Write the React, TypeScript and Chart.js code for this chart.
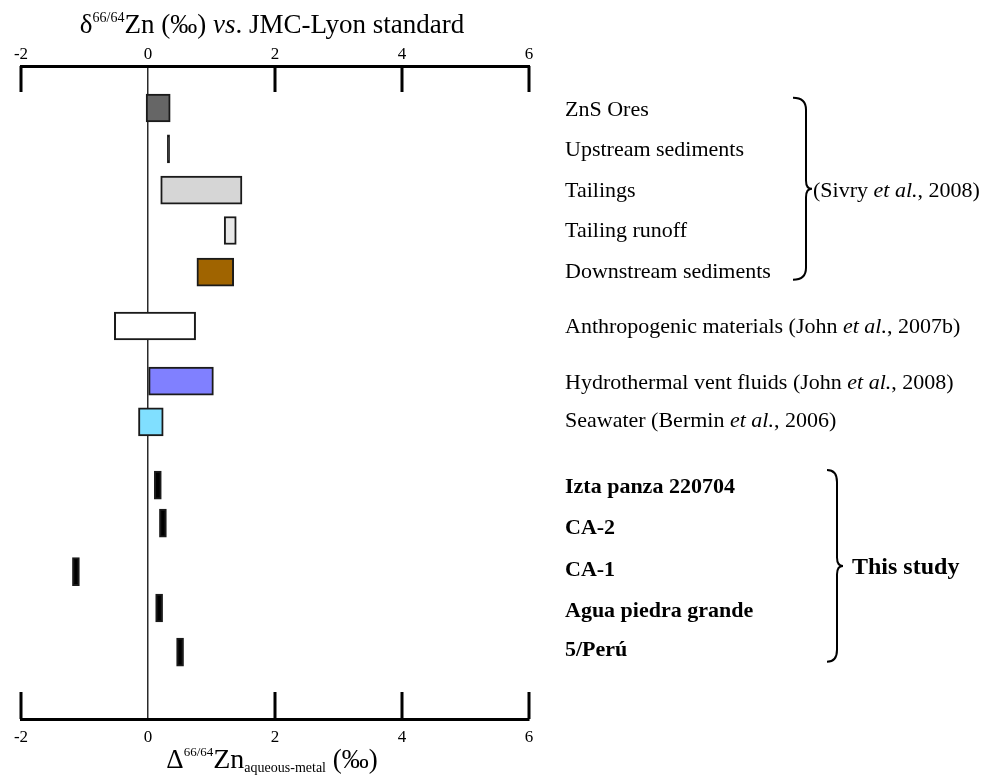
import React, { useEffect, useRef } from "react";
import { Chart, registerables } from "chart.js";

Chart.register(...registerables);

// ---------- data ----------
const categories = [
  "ZnS Ores",
  "Upstream sediments",
  "Tailings",
  "Tailing runoff",
  "Downstream sediments",
  "Anthropogenic materials (John et al., 2007b)",
  "Hydrothermal vent fluids (John et al., 2008)",
  "Seawater (Bermin et al., 2006)",
  "Izta panza 220704",
  "CA-2",
  "CA-1",
  "Agua piedra grande",
  "5/Perú",
];
// row positions on the (hidden, reversed) category-position axis
const rowPos = [1.03, 2.03, 3.04, 4.03, 5.05, 6.37, 7.72, 8.72, 10.27, 11.2, 12.39, 13.28, 14.36];
const labelPos = [1.05, 2.03, 3.02, 4.0, 5.0, 6.35, 7.72, 8.65, 10.27, 11.29, 12.31, 13.31, 14.27];
const lowValues = [-0.03, 0.305, 0.2, 1.2, 0.77, -0.53, 0.01, -0.15, 0.1, 0.18, -1.19, 0.12, 0.45];
const highValues = [0.35, 0.34, 1.48, 1.39, 1.35, 0.75, 1.03, 0.24, 0.21, 0.29, -1.08, 0.23, 0.56];
const barColors = [
  "#666666", "#000000", "#d6d6d6", "#e8e8e8", "#a06400",
  "#ffffff", "#8080ff", "#80dfff",
  "#000000", "#000000", "#000000", "#000000", "#000000",
];
const boldRows = [false, false, false, false, false, false, false, false, true, true, true, true, true];
const xTickValues = [-2, 0, 2, 4, 6];
const groupNotes = ["(Sivry et al., 2008)", "This study"];
const groupFrom = [0.78, 9.9];
const groupTo = [5.24, 14.6];
const groupBold = [false, true];

// ---------- helpers ----------
const SERIF = '"Liberation Serif", "Times New Roman", Times, serif';
type Seg = { t: string; size: number; italic?: boolean; bold?: boolean; dy?: number };
const fontOf = (s: Seg) => `${s.italic ? "italic " : ""}${s.bold ? "bold " : ""}${s.size}px ${SERIF}`;

function drawSegs(ctx: CanvasRenderingContext2D, segs: Seg[], x: number, y: number, center: boolean) {
  let w = 0;
  for (const s of segs) {
    ctx.font = fontOf(s);
    w += ctx.measureText(s.t).width;
  }
  let cx = center ? x - w / 2 : x;
  ctx.textAlign = "left";
  ctx.textBaseline = "alphabetic";
  ctx.fillStyle = "#000";
  for (const s of segs) {
    ctx.font = fontOf(s);
    ctx.fillText(s.t, cx, y + (s.dy || 0));
    cx += ctx.measureText(s.t).width;
  }
}

function richLabel(text: string, size: number, bold: boolean): Seg[] {
  const key = "et al.";
  const idx = text.indexOf(key);
  if (idx < 0) return [{ t: text, size, bold }];
  return [
    { t: text.slice(0, idx), size, bold },
    { t: key, size, bold, italic: true },
    { t: text.slice(idx + key.length), size, bold },
  ];
}

function drawBrace(ctx: CanvasRenderingContext2D, xl: number, xm: number, xt: number, yTop: number, yBot: number) {
  const ymid = (yTop + yBot) / 2;
  const r = 12;
  ctx.beginPath();
  ctx.moveTo(xl, yTop);
  ctx.quadraticCurveTo(xm, yTop, xm, yTop + r);
  ctx.lineTo(xm, ymid - r * 0.7);
  ctx.quadraticCurveTo(xm, ymid, xt, ymid);
  ctx.quadraticCurveTo(xm, ymid, xm, ymid + r * 0.7);
  ctx.lineTo(xm, yBot - r);
  ctx.quadraticCurveTo(xm, yBot, xl, yBot);
  ctx.strokeStyle = "#000";
  ctx.lineWidth = 2;
  ctx.stroke();
}

const decorPlugin = {
  id: "decor",
  afterDatasetsDraw(chart: any) {
    const ctx: CanvasRenderingContext2D = chart.ctx;
    const { chartArea } = chart;
    const xs = chart.scales.x;
    const ys = chart.scales.y;
    ctx.save();
    // inward major ticks
    ctx.strokeStyle = "#000";
    ctx.lineWidth = 3;
    for (const v of xTickValues) {
      if (v === 0) continue;
      const px = xs.getPixelForValue(v);
      ctx.beginPath();
      ctx.moveTo(px, chartArea.top);
      ctx.lineTo(px, chartArea.top + 26);
      ctx.moveTo(px, chartArea.bottom);
      ctx.lineTo(px, chartArea.bottom - 27);
      ctx.stroke();
    }
    // axis titles
    drawSegs(
      ctx,
      [
        { t: "δ", size: 27 },
        { t: "66/64", size: 14, dy: -11 },
        { t: "Zn (‰) ", size: 27 },
        { t: "vs", size: 27, italic: true },
        { t: ". JMC-Lyon standard", size: 27 },
      ],
      (chartArea.left + chartArea.right) / 2 - 3,
      33,
      true
    );
    drawSegs(
      ctx,
      [
        { t: "Δ", size: 27 },
        { t: "66/64", size: 13, dy: -12 },
        { t: "Zn", size: 28 },
        { t: "aqueous-metal", size: 14, dy: 4 },
        { t: " (‰)", size: 27 },
      ],
      (chartArea.left + chartArea.right) / 2 - 3,
      768,
      true
    );
    // row labels
    const lx = chartArea.right + 36;
    categories.forEach((c, i) => {
      const py = ys.getPixelForValue(labelPos[i]);
      drawSegs(ctx, richLabel(c, 22, boldRows[i]), lx, py + 7.5, false);
    });
    // braces + notes
    const braceX = [
      [793, 806, 812],
      [827, 837, 843],
    ];
    groupNotes.forEach((note, i) => {
      const y0 = ys.getPixelForValue(groupFrom[i]);
      const y1 = ys.getPixelForValue(groupTo[i]);
      const [xl, xm, xt] = braceX[i];
      drawBrace(ctx, xl, xm, xt, y0, y1);
      const size = groupBold[i] ? 24 : 22;
      drawSegs(ctx, richLabel(note, size, groupBold[i]), xt + (groupBold[i] ? 9 : 1), (y0 + y1) / 2 + 8, false);
    });
    ctx.restore();
  },
};

export default function App() {
  const ref = useRef<HTMLCanvasElement>(null);
  useEffect(() => {
    const tickFont = { family: SERIF, size: 17 };
    const chart = new Chart(ref.current as HTMLCanvasElement, {
      type: "bar",
      data: {
        datasets: [
          {
            data: rowPos.map((y, i) => ({ x: [lowValues[i], highValues[i]], y })) as any,
            backgroundColor: barColors,
            borderColor: "#1a1a1a",
            borderWidth: 2,
            borderSkipped: false,
            barThickness: 28,
          },
        ],
      },
      options: {
        indexAxis: "y",
        animation: false,
        responsive: false,
        maintainAspectRatio: false,
        devicePixelRatio: 1,
        layout: { padding: { left: 21, right: 457, top: 0, bottom: 0 } },
        plugins: { legend: { display: false }, tooltip: { enabled: false } },
        scales: {
          x: {
            type: "linear",
            position: "bottom",
            min: -2,
            max: 6,
            ticks: { stepSize: 2, font: tickFont, color: "#000", padding: 8 },
            grid: {
              drawTicks: false,
              color: (c: any) => (c.tick && c.tick.value === 0 ? "#2a2a2a" : "rgba(0,0,0,0)"),
              lineWidth: 1.5,
            },
            border: { display: true, color: "#000", width: 3 },
            afterFit: (s: any) => {
              s.height = 56;
            },
          },
          x2: {
            type: "linear",
            axis: "x",
            position: "top",
            min: -2,
            max: 6,
            ticks: { stepSize: 2, font: tickFont, color: "#000", padding: 1 },
            grid: { display: false, drawTicks: false },
            border: { display: true, color: "#000", width: 3 },
            afterFit: (s: any) => {
              s.height = 66;
            },
          },
          y: {
            type: "linear",
            display: false,
            reverse: true,
            min: 0,
            max: 16,
            offset: false,
          },
        },
      } as any,
      plugins: [decorPlugin],
    });
    return () => chart.destroy();
  }, []);
  return (
    <div style={{ position: "fixed", left: 0, top: 0, width: 986, height: 775, background: "#fff" }}>
      <canvas ref={ref} width={986} height={775} style={{ display: "block", width: 986, height: 775 }} />
    </div>
  );
}
